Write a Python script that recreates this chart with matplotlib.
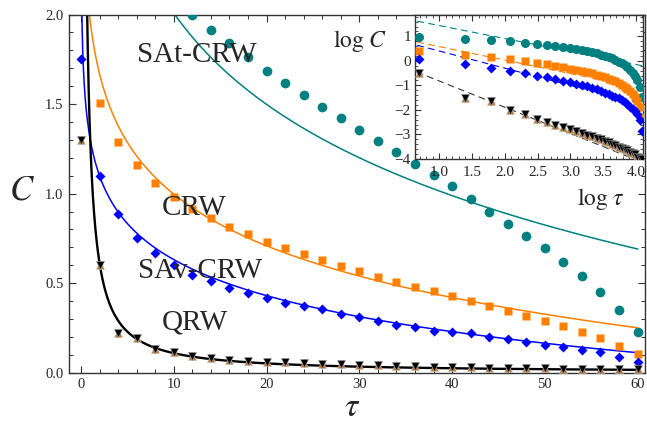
import numpy as np
import matplotlib
matplotlib.use('Agg')
import matplotlib.pyplot as plt
from matplotlib.ticker import MultipleLocator

plt.rcParams['font.family'] = ['Liberation Serif', 'DejaVu Serif']
plt.rcParams['mathtext.fontset'] = 'stix'
plt.rcParams['axes.unicode_minus'] = True

# ---------------- data ----------------
tau = np.arange(0, 61, 2)

c_sat = [np.nan, 2.65, 2.45, 2.32, 2.22, 2.10, 2.00, 1.914, 1.842, 1.76,
         1.687, 1.619, 1.552, 1.483, 1.421, 1.357, 1.293, 1.232, 1.167, 1.106,
         1.04, 0.972, 0.897, 0.833, 0.764, 0.697, 0.619, 0.541, 0.452, 0.349, 0.229]
c_crw = [np.nan, 1.505, 1.288, 1.158, 1.061, 0.981, 0.916, 0.866, 0.814, 0.777,
         0.730, 0.697, 0.662, 0.632, 0.596, 0.569, 0.535, 0.507, 0.479, 0.455,
         0.431, 0.401, 0.373, 0.346, 0.318, 0.290, 0.262, 0.229, 0.195, 0.151, 0.103]
c_sav = [1.749, 1.098, 0.885, 0.753, 0.669, 0.600, 0.548, 0.513, 0.474, 0.446,
         0.415, 0.387, 0.372, 0.353, 0.326, 0.312, 0.290, 0.266, 0.253, 0.234,
         0.227, 0.219, 0.201, 0.188, 0.173, 0.154, 0.141, 0.127, 0.114, 0.089, 0.058]
c_qrw = [1.30, 0.60, 0.22, 0.195, 0.132, 0.115, 0.092, 0.083, 0.072, 0.066,
         0.062, 0.057, 0.053, 0.049, 0.046, 0.043, 0.041, 0.038, 0.036, 0.034,
         0.032, 0.030, 0.029, 0.027, 0.026, 0.024, 0.023, 0.022, 0.020, 0.019, 0.018]

# fitted curves in main panel: C = a - b*ln(tau)  (log fits)
logfit_sat = (3.70, 0.735)
logfit_crw = (1.956, 0.4165)
logfit_sav = (1.299, 0.290)
# QRW: power law C = A * tau^-p
powfit_qrw = (1.28, 1.07)

# inset dashed power-law fits: log C = k0 + k1 * log tau
inset_fit_sat = (1.97, -0.53)
inset_fit_crw = (1.13, -0.55)
inset_fit_sav = (1.10, -0.70)
inset_fit_qrw = (0.246, -1.07)

labels = ['SAt-CRW', 'CRW', 'SAv-CRW', 'QRW']

# ---------------- styles ----------------
TEAL = '#008080'
ORANGE = '#ff8000'
BLUE = '#0000ff'
BROWN = '#c0782e'
TXT = '#262626'
SPINE = '#333333'

W, H = 647, 424
fig = plt.figure(figsize=(W / 100, H / 100), dpi=100)

def fx(px):
    return px / W

def fy(py):
    return (H - py) / H

ax = fig.add_axes([fx(69), fy(372.7), fx(645) - fx(69), fy(14.5) - fy(372.7)])

tt = np.linspace(0.02, 60, 3000)
for (a, b), col in [(logfit_sat, TEAL), (logfit_crw, ORANGE), (logfit_sav, BLUE)]:
    ax.plot(tt, a - b * np.log(tt), color=col, lw=1.1, zorder=2)
ax.plot(tt, powfit_qrw[0] * tt ** (-powfit_qrw[1]), color='black', lw=1.7, zorder=2)

ax.plot(tau, c_sat, 'o', color=TEAL, ms=7.0, mec='none', zorder=3)
ax.plot(tau, c_crw, 's', color=ORANGE, ms=5.6, mec='none', zorder=3)
ax.plot(tau, c_sav, 'D', color=BLUE, ms=5.0, mec='none', zorder=3)
ax.plot(tau, c_qrw, '^', color=BROWN, ms=5.4, mec='#bbbbbb', mew=0.4, zorder=3)
ax.plot(tau, c_qrw, 'v', color='black', ms=5.4, mec='#999999', mew=0.4, zorder=4)

ax.set_xlim(-1.3, 60.8)
ax.set_ylim(0, 2.0)
ax.xaxis.set_major_locator(MultipleLocator(10))
ax.xaxis.set_minor_locator(MultipleLocator(2))
ax.yaxis.set_major_locator(MultipleLocator(0.5))
ax.yaxis.set_minor_locator(MultipleLocator(0.1))
ax.tick_params(which='both', direction='in', top=True, right=True, color=SPINE,
               labelcolor=TXT, labelsize=10.5)
ax.tick_params(which='major', length=5, width=0.8)
ax.tick_params(which='minor', length=3, width=0.7)
ax.tick_params(axis='x', pad=4)
ax.tick_params(axis='y', pad=4)
ax.yaxis.set_major_formatter(matplotlib.ticker.FormatStrFormatter('%.1f'))
for s in ax.spines.values():
    s.set_color(SPINE)
    s.set_linewidth(1.0)

# curve labels
for txt, (px, py) in zip(labels, [(197, 61.5), (194, 215), (200, 278), (195, 329)]):
    fig.text(fx(px), fy(py), txt, ha='center', va='baseline', fontsize=21,
             color=TXT, zorder=10)

# axis labels
fig.text(fx(22), fy(199), r'$C$', ha='center', va='baseline', fontsize=25, color=TXT)
fig.text(fx(352), fy(416), r'$\tau$', ha='center', va='baseline', fontsize=24, color=TXT)
fig.text(fx(360), fy(47), r'$\log\,C$', ha='center', va='baseline', fontsize=17, color=TXT)
fig.text(fx(601), fy(205), r'$\log\,\tau$', ha='center', va='baseline', fontsize=17, color=TXT)

# ---------------- inset ----------------
ins = fig.add_axes([fx(415), fy(159.3), fx(643) - fx(415), fy(15) - fy(159.3)])
ins.set_facecolor('white')
lt = np.log(tau[1:])
lx = np.linspace(0.5, 4.3, 50)
for (k0, k1), col in [(inset_fit_sat, TEAL), (inset_fit_crw, ORANGE),
                      (inset_fit_sav, BLUE), (inset_fit_qrw, '#333333')]:
    ins.plot(lx, k0 + k1 * lx, ls=(0, (6, 4)), color=col, lw=0.8, zorder=2)

ins.plot(lt, np.log(c_sat[1:]), 'o', color=TEAL, ms=6.5, mec='none', zorder=3)
ins.plot(lt, np.log(c_crw[1:]), 's', color=ORANGE, ms=5.5, mec='none', zorder=3)
ins.plot(lt, np.log(c_sav[1:]), 'D', color=BLUE, ms=4.9, mec='none', zorder=3)
ins.plot(lt, np.log(c_qrw[1:]), '^', color=BROWN, ms=5.4, mec='#bbbbbb', mew=0.4, zorder=3)
ins.plot(lt, np.log(c_qrw[1:]), 'v', color='black', ms=5.4, mec='#999999', mew=0.4, zorder=4)

ins.set_xlim(0.63, 4.11)
ins.set_ylim(-4.02, 1.87)
ins.xaxis.set_major_locator(MultipleLocator(0.5))
ins.xaxis.set_minor_locator(MultipleLocator(0.1))
ins.yaxis.set_major_locator(MultipleLocator(1))
ins.yaxis.set_minor_locator(MultipleLocator(0.2))
ins.tick_params(which='both', direction='in', top=True, right=True, color=SPINE,
                labelcolor=TXT, labelsize=11)
ins.tick_params(which='major', length=4, width=0.8)
ins.tick_params(which='minor', length=2, width=0.6)
ins.tick_params(axis='x', pad=5)
ins.tick_params(axis='y', pad=3)
for s in ins.spines.values():
    s.set_color(SPINE)
    s.set_linewidth(1.0)

fig.savefig('out.png', dpi=100)
